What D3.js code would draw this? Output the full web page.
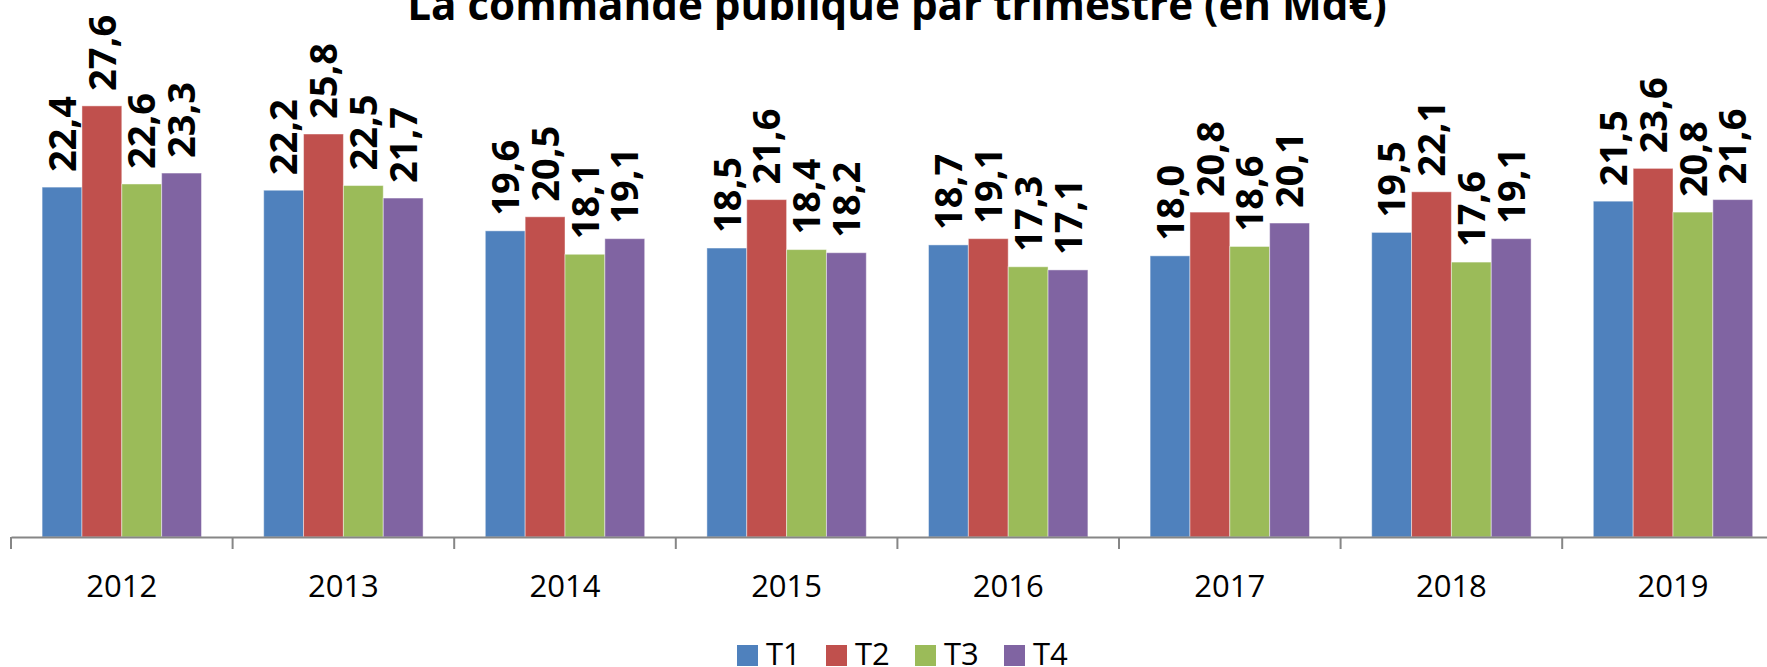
<!DOCTYPE html>
<html>
<head>
<meta charset="utf-8">
<script src="https://d3js.org/d3.v7.min.js"></script>
<style>
  body { margin: 0; background: #fff; }
  svg { display: block; font-family: "Open Sans", "Noto Sans", sans-serif; }
</style>
</head>
<body>
<div id="chart"></div>
<script>
// data
var years = ["2012", "2013", "2014", "2015", "2016", "2017", "2018", "2019"];
var seriesNames = ["T1", "T2", "T3", "T4"];
var t1 = [22.4, 22.2, 19.6, 18.5, 18.7, 18.0, 19.5, 21.5];
var t2 = [27.6, 25.8, 20.5, 21.6, 19.1, 20.8, 22.1, 23.6];
var t3 = [22.6, 22.5, 18.1, 18.4, 17.3, 18.6, 17.6, 20.8];
var t4 = [23.3, 21.7, 19.1, 18.2, 17.1, 20.1, 19.1, 21.6];
var colors = ["#4F81BD", "#C0504D", "#9BBB59", "#8064A2"];

var seriesValues = [t1, t2, t3, t4];

var width = 1767;
var height = 667;

// the plot area, the right end runs past the window like in the picture
var axisLeft = 11;
var catWidth = 221.6;
var baseY = 537;

var svg = d3.select("#chart")
  .append("svg")
  .attr("width", width)
  .attr("height", height);

// build rows for each bar
var rows = [];
years.forEach(function(y, i) {
  seriesNames.forEach(function(s, j) {
    rows.push({ year: y, serie: s, value: seriesValues[j][i], color: colors[j] });
  });
});

var xScale = d3.scaleBand()
  .domain(years)
  .range([axisLeft, axisLeft + catWidth * years.length])
  .padding(0);

// bars inside each year
var xInner = d3.scaleBand()
  .domain(seriesNames)
  .range([31.1, catWidth - 31.1])
  .padding(0);

var yScale = d3.scaleLinear()
  .domain([0, 30])
  .range([baseY, baseY - 30 * 15.62]);

// bars
svg.selectAll("rect.bar")
  .data(rows)
  .enter()
  .append("rect")
  .attr("class", "bar")
  .attr("x", function(d) { return xScale(d.year) + xInner(d.serie); })
  .attr("y", function(d) { return yScale(d.value); })
  .attr("width", xInner.bandwidth())
  .attr("height", function(d) { return yScale(0) - yScale(d.value); })
  .attr("fill", function(d) { return d.color; })
  .attr("stroke", "#ffffff")
  .attr("stroke-opacity", 0.45)
  .attr("stroke-width", 1);

// rotated value labels, comma as decimal sign
var fmt = d3.format(".1f");
svg.selectAll("text.valLabel")
  .data(rows)
  .enter()
  .append("text")
  .attr("class", "valLabel")
  .attr("transform", function(d) {
    var cx = xScale(d.year) + xInner(d.serie) + xInner.bandwidth() / 2;
    var cy = yScale(d.value) - 15;
    return "translate(" + cx + "," + cy + ")rotate(-90)";
  })
  .attr("dy", "0.36em")
  .attr("font-size", 38)
  .attr("font-weight", "bold")
  .attr("fill", "#000")
  .text(function(d) { return fmt(d.value).replace(".", ","); });

// category axis
var xAxis = d3.axisBottom(xScale)
  .tickSizeInner(0)
  .tickSizeOuter(0)
  .tickPadding(0);

var axisG = svg.append("g")
  .attr("class", "xAxis")
  .attr("transform", "translate(0," + baseY + ")")
  .call(xAxis);

axisG.select(".domain")
  .attr("stroke", "#868686")
  .attr("stroke-width", 2);

axisG.selectAll(".tick line").remove();
axisG.selectAll(".tick text")
  .attr("y", 60)
  .attr("dy", 0)
  .attr("font-size", 31)
  .attr("font-family", "Open Sans")
  .attr("fill", "#000");

// tick marks between the categories
var boundaries = years.map(function(y) { return xScale(y); });
boundaries.push(xScale(years[years.length - 1]) + catWidth);
axisG.selectAll("line.sep")
  .data(boundaries)
  .enter()
  .append("line")
  .attr("class", "sep")
  .attr("x1", function(d) { return d; })
  .attr("x2", function(d) { return d; })
  .attr("y1", 0)
  .attr("y2", 12)
  .attr("stroke", "#868686")
  .attr("stroke-width", 2);

// title, cut off at the top like the picture
var title = svg.append("text")
  .attr("x", 897)
  .attr("y", 20)
  .attr("text-anchor", "middle")
  .attr("font-size", 40)
  .attr("font-weight", "bold")
  .attr("fill", "#000")
  .text("La commande publique par trimestre (en Md€)");

// fit the title to the width seen in the picture
var tl = title.node().getComputedTextLength();
title.attr("font-size", 40 * 980 / tl);

// legend
var legend = svg.append("g")
  .attr("class", "legend")
  .attr("transform", "translate(737, 645)");

var item = legend.selectAll("g.item")
  .data(seriesNames)
  .enter()
  .append("g")
  .attr("class", "item")
  .attr("transform", function(d, i) { return "translate(" + (i * 89) + ",0)"; });

item.append("rect")
  .attr("width", 21)
  .attr("height", 21)
  .attr("fill", function(d, i) { return colors[i]; });

item.append("text")
  .attr("x", 29)
  .attr("y", 20)
  .attr("font-size", 31)
  .attr("fill", "#000")
  .text(function(d) { return d; });
</script>
</body>
</html>
